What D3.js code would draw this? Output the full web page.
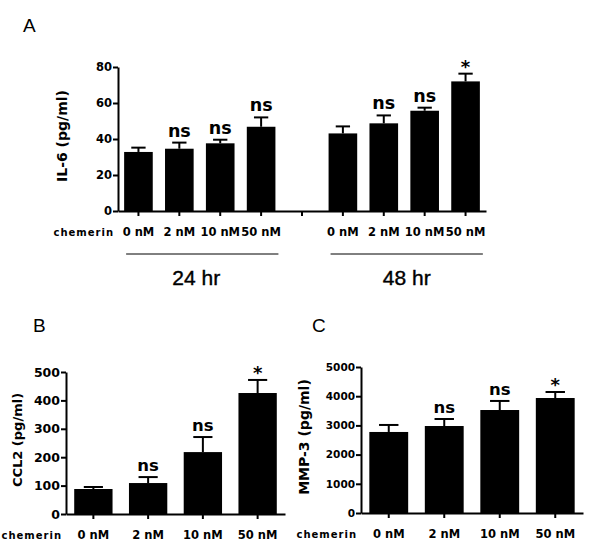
<!DOCTYPE html>
<html><head><meta charset="utf-8">
<script src="https://cdn.jsdelivr.net/npm/d3@7"></script>
<style>body{margin:0;background:#fff} svg{display:block}</style>
</head><body>
<svg id="c" width="600" height="551"></svg>
<script>
// ---------- data ----------
const doses = ["0 nM", "2 nM", "10 nM", "50 nM"];
const groups = ["24 hr", "48 hr"];
const il6_24h = [32.8, 34.6, 37.6, 46.8];
const il6_24h_err = [2.4, 3.4, 2.0, 5.2];
const il6_24h_sig = ["", "ns", "ns", "ns"];
const il6_48h = [43.1, 48.7, 55.7, 72.0];
const il6_48h_err = [3.9, 4.4, 1.7, 4.3];
const il6_48h_sig = ["", "ns", "ns", "*"];
const il6Ticks = [0, 20, 40, 60, 80];
const ccl2 = [88, 109, 218, 426];
const ccl2_err = [7, 21, 53, 46];
const ccl2_sig = ["", "ns", "ns", "*"];
const ccl2Ticks = [0, 100, 200, 300, 400, 500];
const mmp3 = [2775, 2979, 3527, 3938];
const mmp3_err = [240, 240, 310, 206];
const mmp3_sig = ["", "ns", "ns", "*"];
const mmp3Ticks = [0, 1000, 2000, 3000, 4000, 5000];

// ---------- drawing ----------
const svg = d3.select("#c");
const BOLD = "'DejaVu Sans', sans-serif";
const ARIAL = "'Liberation Sans', Arial, sans-serif";

function panel(cfg) {
  const g = svg.append("g");
  const x = d3.scaleBand().domain(cfg.slots).range(cfg.xRange).paddingInner(0.3).paddingOuter(0.15);
  const y = d3.scaleLinear().domain([0, cfg.yTicks[cfg.yTicks.length - 1]]).range(cfg.yRange);
  const bw = x.bandwidth();
  const cx = d => x(d.key) + bw / 2;

  g.selectAll("rect.bar").data(cfg.bars).join("rect").attr("class", "bar")
    .attr("x", d => x(d.key)).attr("y", d => y(d.v))
    .attr("width", bw).attr("height", d => y(0) - y(d.v)).attr("fill", "#000");

  g.selectAll("line.err").data(cfg.bars).join("line").attr("class", "err")
    .attr("x1", cx).attr("x2", cx).attr("y1", d => y(d.v)).attr("y2", d => y(d.v + d.e))
    .attr("stroke", "#000").attr("stroke-width", 2);
  g.selectAll("line.cap").data(cfg.bars).join("line").attr("class", "cap")
    .attr("x1", d => cx(d) - bw * 0.25).attr("x2", d => cx(d) + bw * 0.25)
    .attr("y1", d => y(d.v + d.e)).attr("y2", d => y(d.v + d.e))
    .attr("stroke", "#000").attr("stroke-width", 2);

  g.selectAll("text.sig").data(cfg.bars.filter(d => d.sig)).join("text").attr("class", "sig")
    .attr("x", cx).attr("y", d => y(d.v + d.e) - (d.sig === "*" ? 1 : 6))
    .attr("text-anchor", "middle").attr("font-family", BOLD).attr("font-weight", "bold")
    .attr("font-size", d => d.sig === "*" ? 18 : cfg.nsSize).text(d => d.sig);

  const ya = g.append("g").attr("transform", `translate(${cfg.xRange[0]},0)`)
    .call(d3.axisLeft(y).tickValues(cfg.yTicks).tickFormat(d3.format("d"))
      .tickSize(5).tickSizeOuter(0).tickPadding(1));
  ya.selectAll("text").attr("font-family", BOLD).attr("font-weight", "bold").attr("font-size", cfg.yTickSize);

  const xa = g.append("g").attr("transform", `translate(0,${cfg.yRange[0]})`)
    .call(d3.axisBottom(x).tickSize(5).tickSizeOuter(0).tickFormat(k => cfg.tickLabel(k)));
  xa.selectAll("text").attr("y", 25).attr("dy", null)
    .attr("font-family", BOLD).attr("font-weight", "bold").attr("font-size", 11.5);
  g.selectAll(".domain, .tick line").attr("stroke-width", 2);

  g.append("text").attr("x", cfg.xRange[0] - 4).attr("y", cfg.yRange[0] + 25)
    .attr("text-anchor", "end").attr("font-family", BOLD).attr("font-weight", "bold")
    .attr("font-size", 10).attr("letter-spacing", 1).text("chemerin");

  g.append("text").attr("transform", `translate(${cfg.titlePos[0]},${cfg.titlePos[1]}) rotate(-90)`)
    .attr("text-anchor", "middle").attr("font-family", BOLD).attr("font-weight", "bold")
    .attr("font-size", cfg.titleSize).text(cfg.title);

  g.append("text").attr("x", cfg.letterPos[0]).attr("y", cfg.letterPos[1])
    .attr("font-family", ARIAL).attr("font-size", 19).text(cfg.letter);

  return { x, y, g };
}

// Panel A
const slotsA = [...doses.map(d => "24|" + d), "gap", ...doses.map(d => "48|" + d)];
const barsA = [
  ...doses.map((d, i) => ({ key: "24|" + d, v: il6_24h[i], e: il6_24h_err[i], sig: il6_24h_sig[i] })),
  ...doses.map((d, i) => ({ key: "48|" + d, v: il6_48h[i], e: il6_48h_err[i], sig: il6_48h_sig[i] }))
];
const A = panel({
  letter: "A", letterPos: [23, 32], slots: slotsA, bars: barsA,
  xRange: [118, 486], yRange: [211, 67], yTicks: il6Ticks, yTickSize: 11.5,
  tickLabel: k => k === "gap" ? "" : k.split("|")[1], nsSize: 17.5,
  title: "IL-6 (pg/ml)", titlePos: [67, 136], titleSize: 14
});
groups.forEach((gName, gi) => {
  const pre = gi === 0 ? "24|" : "48|";
  const x0 = A.x(pre + doses[0]) + 2;
  const x1 = A.x(pre + doses[doses.length - 1]) + A.x.bandwidth() + 3;
  A.g.append("line").attr("x1", x0).attr("x2", x1).attr("y1", 254).attr("y2", 254)
    .attr("stroke", "#000").attr("stroke-width", 1);
  A.g.append("text").attr("x", (x0 + x1) / 2 - (gi === 0 ? 6 : 0)).attr("y", 285)
    .attr("text-anchor", "middle").attr("font-family", ARIAL).attr("font-size", 21)
    .attr("stroke", "#000").attr("stroke-width", 0.4).text(gName);
});

// Panel B
panel({
  letter: "B", letterPos: [33, 332], slots: doses,
  bars: doses.map((d, i) => ({ key: d, v: ccl2[i], e: ccl2_err[i], sig: ccl2_sig[i] })),
  xRange: [66, 285], yRange: [514, 372], yTicks: ccl2Ticks, yTickSize: 12.5,
  tickLabel: k => k, nsSize: 16.5,
  title: "CCL2 (pg/ml)", titlePos: [22, 440], titleSize: 13
});

// Panel C
panel({
  letter: "C", letterPos: [312, 332], slots: doses,
  bars: doses.map((d, i) => ({ key: d, v: mmp3[i], e: mmp3_err[i], sig: mmp3_sig[i] })),
  xRange: [361, 583], yRange: [513, 367], yTicks: mmp3Ticks, yTickSize: 10.5,
  tickLabel: k => k, nsSize: 16.5,
  title: "MMP-3 (pg/ml)", titlePos: [309, 437], titleSize: 14
});
</script>
</body></html>
